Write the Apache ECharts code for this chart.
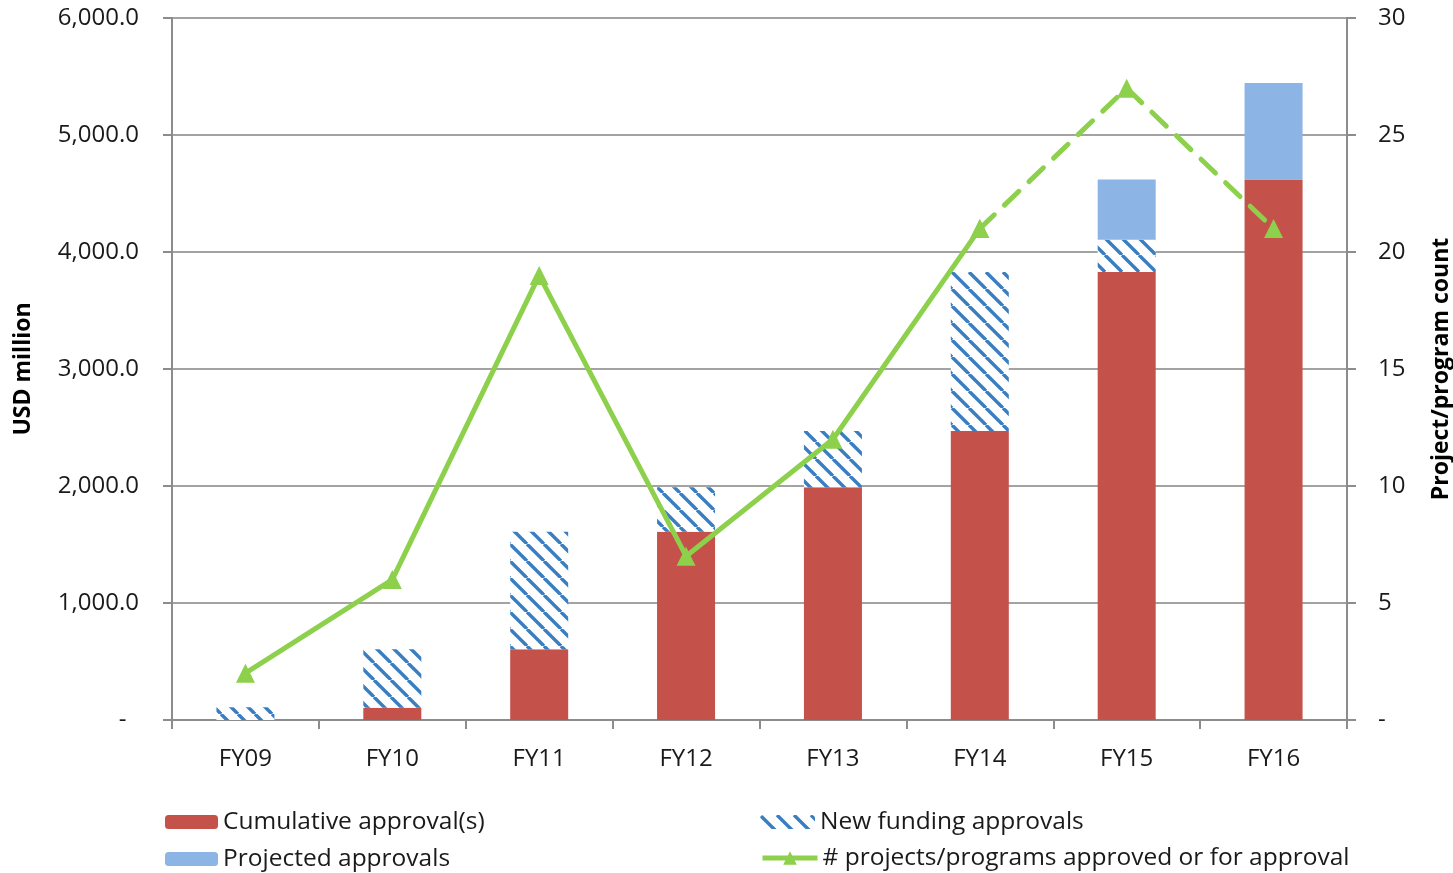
<!DOCTYPE html>
<html>
<head>
<meta charset="utf-8">
<script src="https://cdn.jsdelivr.net/npm/echarts@6/dist/echarts.min.js"></script>
<style>
  html, body { margin: 0; padding: 0; background: #ffffff; overflow: hidden; }
  #chart { width: 1453px; height: 873px; }
</style>
</head>
<body>
<div id="chart"></div>
<script>
// Fiscal years
const categories = ['FY09', 'FY10', 'FY11', 'FY12', 'FY13', 'FY14', 'FY15', 'FY16'];
// USD million, stacked
const cumulativeApprovals = [0, 105, 605, 1610, 1990, 2470, 3830, 4620];
const newFundingApprovals = [108, 500, 1005, 380, 480, 1360, 274, 0];
const projectedApprovals = [0, 0, 0, 0, 0, 0, 516, 825];
// Project/program count (right axis); actual through FY14, projected after
const projectCountActual = [2, 6, 19, 7, 12, 21, null, null];
const projectCountProjected = [null, null, null, null, null, 21, 27, 21];

const FONT = '"Open Sans", sans-serif';
const GREEN = '#8DD04C';
const RED = '#C5524A';
const LIGHT_BLUE = '#8CB4E4';
const STRIPE_BLUE = '#3A7EC2';
const TEXT = '#1a1a1a';

// Diagonal stripe fill for the new funding series
function stripePattern() {
  const size = 17;
  const c = document.createElement('canvas');
  c.width = size; c.height = size;
  const ctx = c.getContext('2d');
  ctx.fillStyle = '#ffffff';
  ctx.fillRect(0, 0, size, size);
  ctx.strokeStyle = STRIPE_BLUE;
  ctx.lineWidth = 3.4;
  for (const off of [-size, 0, size]) {
    ctx.beginPath();
    ctx.moveTo(off, 0);
    ctx.lineTo(off + size, size);
    ctx.stroke();
  }
  return { image: c, repeat: 'repeat' };
}

// Accounting-style labels: zero shown as a dash
const leftFmt = v => v === 0 ? '-  ' : v.toLocaleString('en-US', { minimumFractionDigits: 1, maximumFractionDigits: 1 });
const rightFmt = v => v === 0 ? '-' : String(v);

const chart = echarts.init(document.getElementById('chart'), null, { renderer: 'canvas' });

const labelStyle = { fontFamily: FONT, fontSize: 24, color: TEXT };
const legendText = { fontFamily: FONT, fontSize: 24.5, color: TEXT, lineHeight: 28 };

function legendItem(name, left, top, w, h) {
  return {
    orient: 'horizontal', left: left, top: top, padding: 0,
    itemWidth: w, itemHeight: h || 14, itemGap: 0,
    textStyle: legendText,
    lineStyle: { width: 5 },
    data: [name]
  };
}

chart.setOption({
  backgroundColor: '#ffffff',
  animation: false,
  grid: { left: 172, right: 106, top: 18, bottom: 153, containLabel: false, outerBoundsMode: 'none' },
  legend: [
    legendItem('Cumulative approval(s)', 165, 808, 53),
    legendItem('Projected approvals', 165, 845, 53),
    legendItem('New funding approvals', 760, 808, 55),
    legendItem('# projects/programs approved or for approval', 760, 844, 55, 17)
  ],
  xAxis: {
    type: 'category',
    data: categories,
    boundaryGap: true,
    axisLine: { lineStyle: { color: '#8C8C8C', width: 2 } },
    axisTick: { show: true, length: 9, lineStyle: { color: '#8C8C8C', width: 2 } },
    axisLabel: Object.assign({ margin: 27 }, labelStyle)
  },
  yAxis: [
    {
      type: 'value', min: 0, max: 6000, interval: 1000,
      name: 'USD million', nameLocation: 'middle', nameGap: 137, nameRotate: 90,
      nameTextStyle: { fontFamily: FONT, fontSize: 23, fontWeight: 'bold', color: '#000' },
      axisLine: { show: true, lineStyle: { color: '#8C8C8C', width: 2 } },
      axisTick: { show: true, length: 9, lineStyle: { color: '#8C8C8C', width: 2 } },
      splitLine: { show: true, lineStyle: { color: '#A3A3A3', width: 2 } },
      axisLabel: Object.assign({ margin: 33, formatter: leftFmt }, labelStyle)
    },
    {
      type: 'value', min: 0, max: 30, interval: 5, position: 'right',
      name: 'Project/program count', nameLocation: 'middle', nameGap: 83, nameRotate: 90,
      nameTextStyle: { fontFamily: FONT, fontSize: 23, fontWeight: 'bold', color: '#000' },
      axisLine: { show: true, lineStyle: { color: '#8C8C8C', width: 2 } },
      axisTick: { show: true, length: 9, lineStyle: { color: '#8C8C8C', width: 2 } },
      splitLine: { show: false },
      axisLabel: Object.assign({ margin: 31, formatter: rightFmt }, labelStyle)
    }
  ],
  series: [
    {
      name: 'Cumulative approval(s)', type: 'bar', stack: 'usd', barWidth: 58,
      itemStyle: { color: RED },
      data: cumulativeApprovals
    },
    {
      name: 'New funding approvals', type: 'bar', stack: 'usd', barWidth: 58,
      itemStyle: { color: stripePattern() },
      data: newFundingApprovals
    },
    {
      name: 'Projected approvals', type: 'bar', stack: 'usd', barWidth: 58,
      itemStyle: { color: LIGHT_BLUE },
      data: projectedApprovals
    },
    {
      name: '# projects/programs approved or for approval', type: 'line', yAxisIndex: 1,
      symbol: 'triangle', symbolSize: 19, showAllSymbol: true,
      lineStyle: { color: GREEN, width: 5 },
      itemStyle: { color: GREEN },
      data: projectCountActual, z: 5
    },
    {
      name: 'projected count', type: 'line', yAxisIndex: 1,
      symbol: 'triangle', symbolSize: 19, showAllSymbol: true,
      lineStyle: { color: GREEN, width: 5, type: [20, 14], cap: 'round' },
      itemStyle: { color: GREEN },
      data: projectCountProjected, z: 5
    }
  ]
});
</script>
</body>
</html>
